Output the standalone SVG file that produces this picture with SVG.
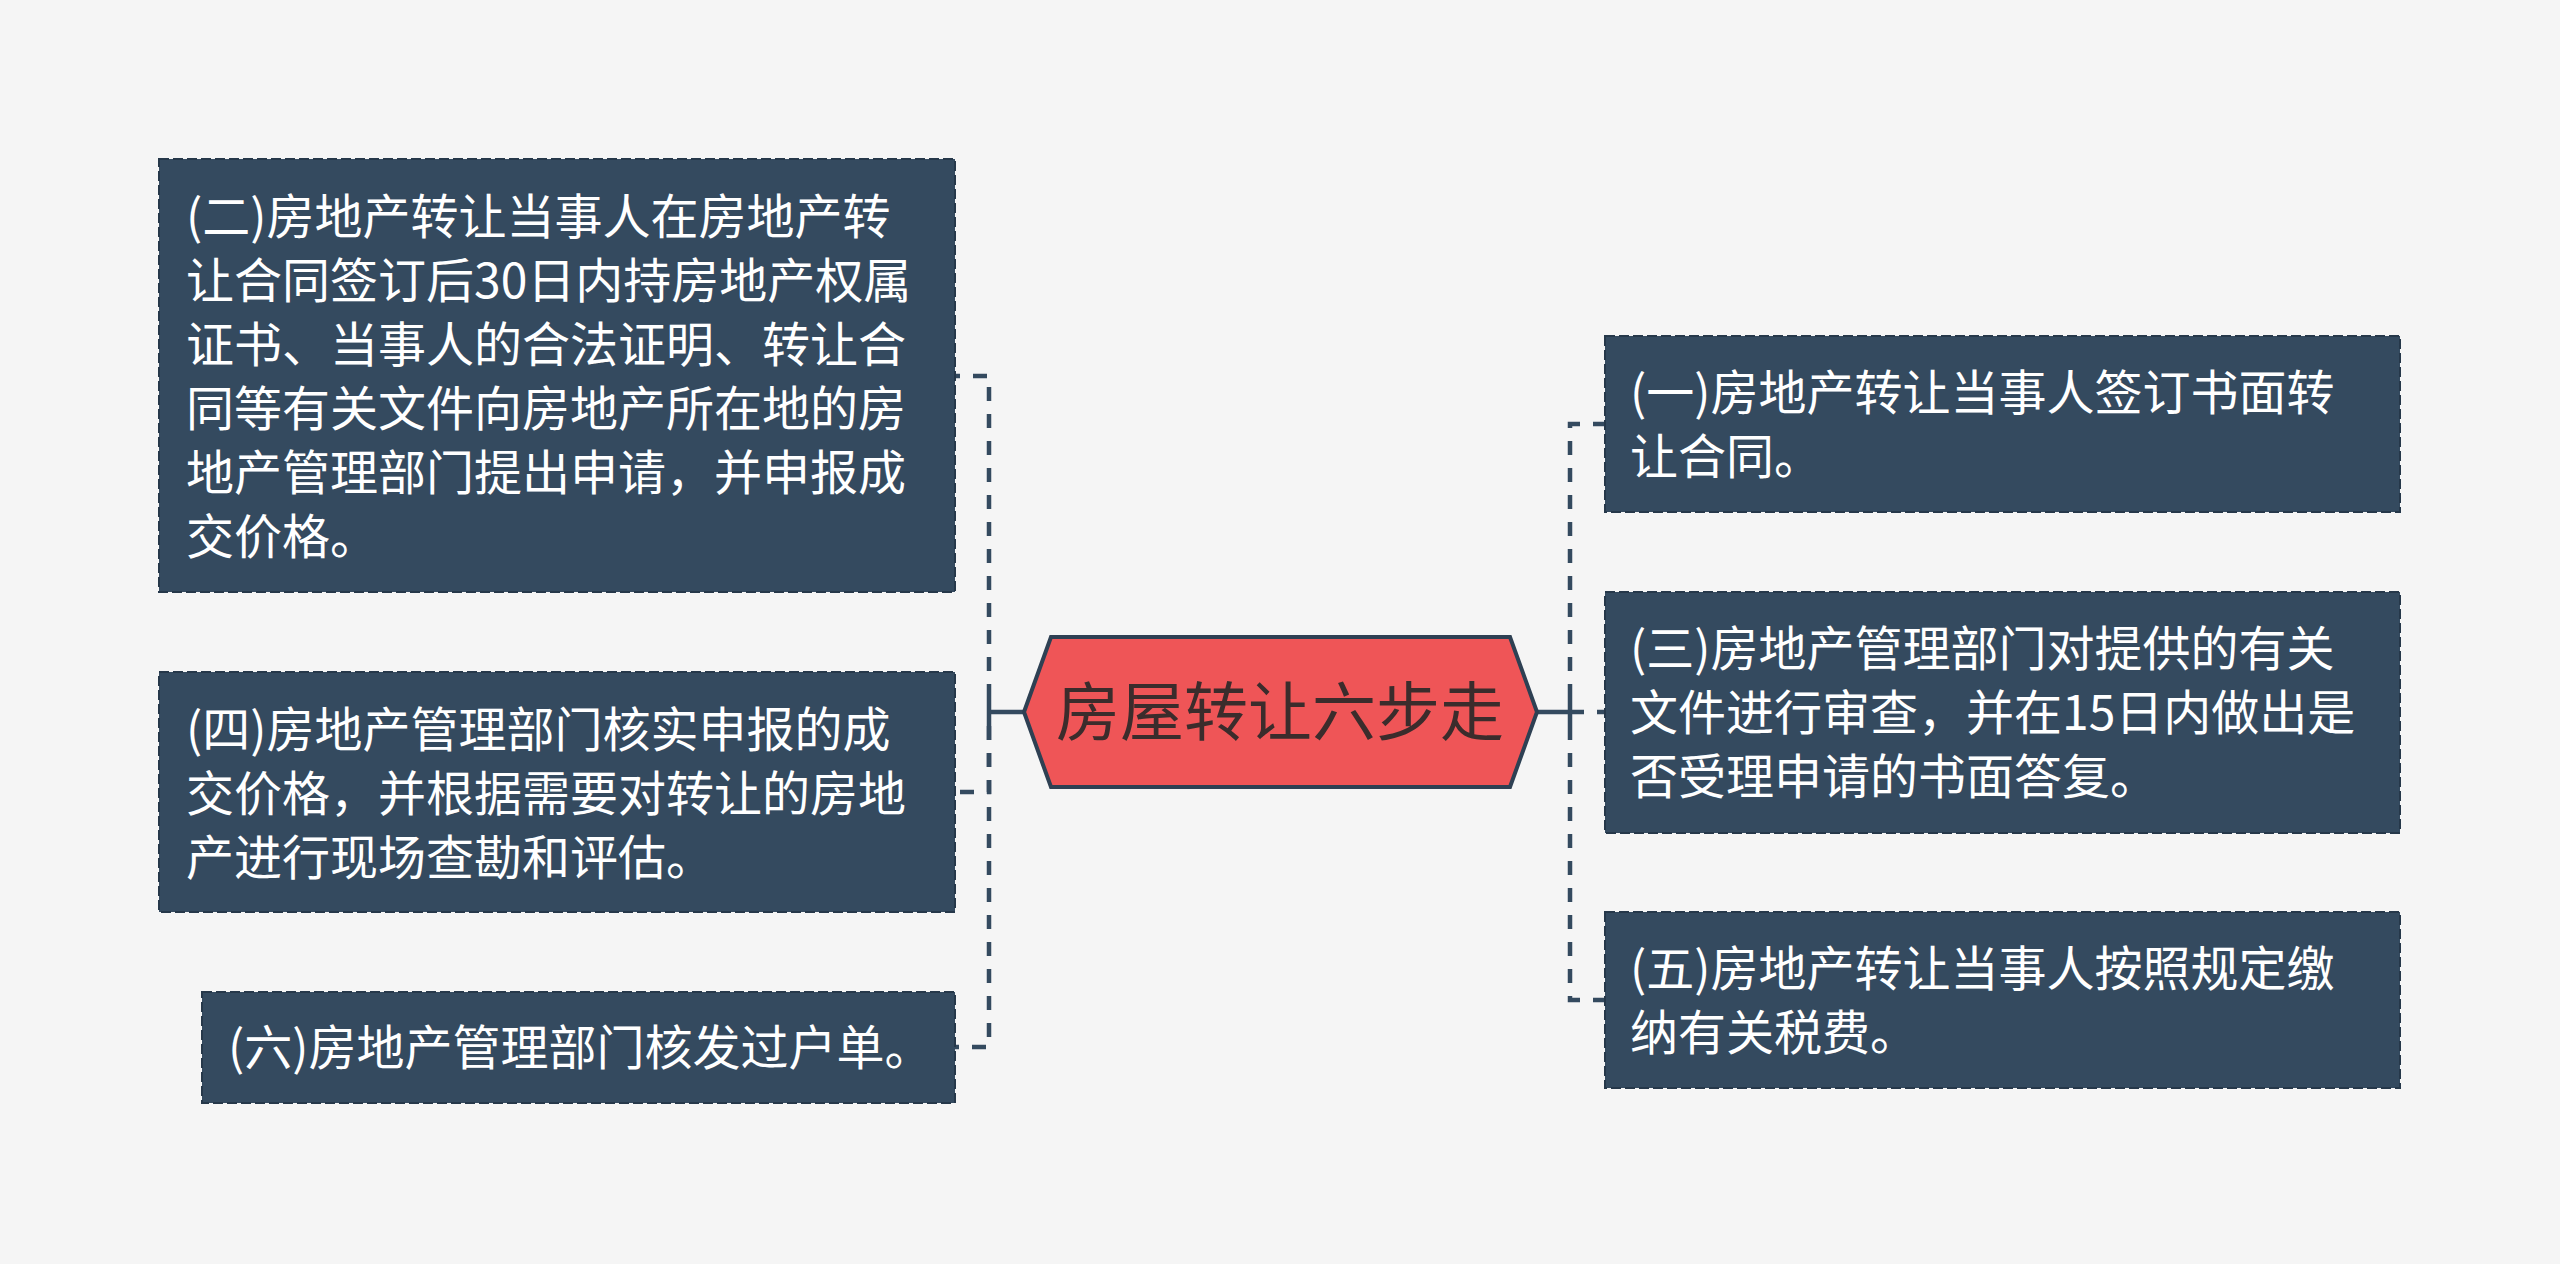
<svg xmlns="http://www.w3.org/2000/svg" width="2560" height="1264" viewBox="0 0 2560 1264">
<style>
.box{fill:#344a5f;stroke:#26384a;stroke-width:2;stroke-dasharray:10 4}
.t{font-family:"Noto Sans CJK SC","Noto Sans",sans-serif;font-size:48px;fill:#ffffff}
.hub{fill:#ef5557;stroke:#2e4053;stroke-width:4;stroke-linejoin:miter}
.ht{font-family:"Noto Sans CJK SC","Noto Sans",sans-serif;font-size:64px;fill:#3b2c2c;text-anchor:middle}
.solid{fill:none;stroke:#344a5f;stroke-width:4.5}
.dash{fill:none;stroke:#344a5f;stroke-width:4.5;stroke-dasharray:14 13}
</style>
<rect x="0" y="0" width="2560" height="1264" fill="#f5f5f5"/>
<g id="connectors">
<path class="solid" d="M1024 712 H989 M989 698 V726"/>
<path class="dash" d="M989 698 V376 H955"/>
<path class="dash" d="M989 726 V792 H955"/>
<path class="dash" d="M989 726 V1047 H955"/>
<path class="solid" d="M1537 712 H1570 M1570 698 V726"/>
<path class="dash" d="M1570 712 H1605"/>
<path class="dash" d="M1570 698 V424 H1605"/>
<path class="dash" d="M1570 726 V1000 H1605"/>
</g>
<g id="hub">
<polygon class="hub" points="1024,712 1051,637 1510,637 1537,712 1510,787 1051,787"/>
<text class="ht" x="1280" y="735">房屋转让六步走</text>
</g>
<g id="node2">
<rect class="box" x="159" y="159" width="796" height="433"/>
<text class="t" x="186" y="234">(二)房地产转让当事人在房地产转</text>
<text class="t" x="186" y="298">让合同签订后30日内持房地产权属</text>
<text class="t" x="186" y="362">证书、当事人的合法证明、转让合</text>
<text class="t" x="186" y="426">同等有关文件向房地产所在地的房</text>
<text class="t" x="186" y="490">地产管理部门提出申请，并申报成</text>
<text class="t" x="186" y="554">交价格。</text>
</g>
<g id="node4">
<rect class="box" x="159" y="672" width="796" height="240"/>
<text class="t" x="186" y="747">(四)房地产管理部门核实申报的成</text>
<text class="t" x="186" y="811">交价格，并根据需要对转让的房地</text>
<text class="t" x="186" y="875">产进行现场查勘和评估。</text>
</g>
<g id="node6">
<rect class="box" x="202" y="992" width="753" height="111"/>
<text class="t" x="228" y="1065">(六)房地产管理部门核发过户单。</text>
</g>
<g id="node1">
<rect class="box" x="1605" y="336" width="795" height="176"/>
<text class="t" x="1630" y="410">(一)房地产转让当事人签订书面转</text>
<text class="t" x="1630" y="474">让合同。</text>
</g>
<g id="node3">
<rect class="box" x="1605" y="592" width="795" height="241"/>
<text class="t" x="1630" y="666">(三)房地产管理部门对提供的有关</text>
<text class="t" x="1630" y="730">文件进行审查，并在15日内做出是</text>
<text class="t" x="1630" y="794">否受理申请的书面答复。</text>
</g>
<g id="node5">
<rect class="box" x="1605" y="912" width="795" height="176"/>
<text class="t" x="1630" y="986">(五)房地产转让当事人按照规定缴</text>
<text class="t" x="1630" y="1050">纳有关税费。</text>
</g>
</svg>
